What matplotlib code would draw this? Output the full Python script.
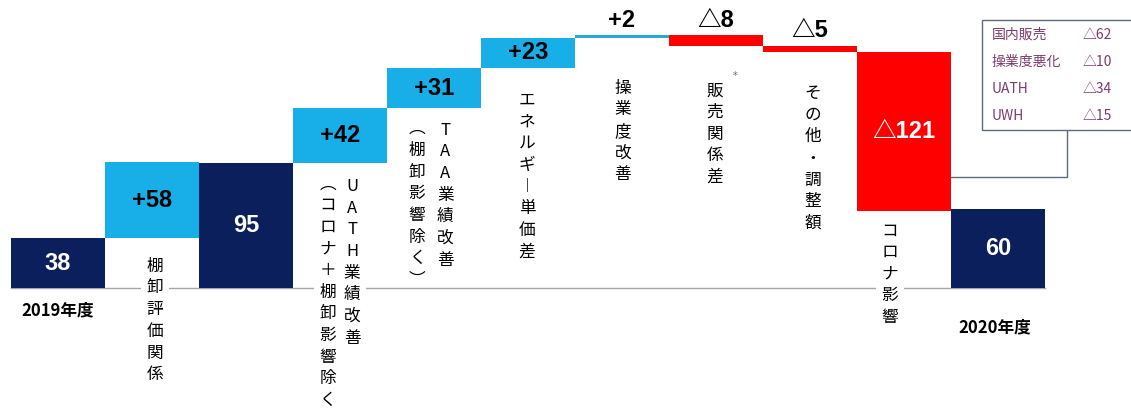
import matplotlib.pyplot as plt
from matplotlib.patches import Rectangle

# ── Data ─────────────────────────────────────────────────────────────────────
steps = ['2019年度', '棚卸評価関係', '小計', 'UATH業績改善', 'TAA業績改善',
         'エネルギー単価差', '操業度改善', '販売関係差', 'その他・調整額',
         'コロナ影響', '2020年度']
values = [38, 58, 95, 42, 31, 23, 2, -8, -5, -121, 60]
is_total = [True, False, True, False, False, False, False, False, False, False, True]
value_labels = ['38', '+58', '95', '+42', '+31', '+23', '+2', '△8', '△5', '△121', '60']

# vertical captions under the bars: (text, bar index offset, top value)
captions = [
    ('棚卸評価関係', 1.03, 23),
    ('UATH業績改善', 3.13, 84),
    ('︵コロナ＋棚卸影響除く︶', 2.87, 86),
    ('TAA業績改善', 4.12, 127),
    ('︵棚卸影響除く︶', 3.82, 128),
    ('エネルギ︱単価差', 4.99, 150),
    ('操業度改善', 6.01, 159),
    ('販売関係差', 6.99, 157),
    ('その他・調整額', 8.03, 155),
    ('コロナ影響', 8.85, 50),
]
# captions that run through the baseline (the line is broken behind them)
crossing = {'棚卸評価関係', 'UATH業績改善', '︵コロナ＋棚卸影響除く︶', 'コロナ影響'}

corona_items = ['国内販売', '操業度悪化', 'UATH', 'UWH']
corona_values = ['△62', '△10', '△34', '△15']

NAVY = '#0b1f5c'
BLUE = '#18aee8'
RED = '#ff0000'
JP = ['Noto Sans CJK JP', 'DejaVu Sans']
NUM = ['Liberation Sans', 'Noto Sans CJK JP', 'DejaVu Sans']

fig = plt.figure(figsize=(11.31, 4.09), dpi=100)
ax = fig.add_axes([0, 0, 1, 1])
ax.set_xlim(-0.617, 11.415)
ax.set_ylim(-92.4, 219.8)
ax.axis('off')

# ── Waterfall bars ───────────────────────────────────────────────────────────
level = 0
for i, (v, tot, lab) in enumerate(zip(values, is_total, value_labels)):
    if tot:
        bottom, height = 0, v
        color = NAVY
        level = v
    else:
        bottom = level if v > 0 else level + v
        height = abs(v)
        color = RED if v < 0 else BLUE
        if i == 6:
            color = '#2aa7d6'
        level += v
    ax.bar(i, height, bottom=bottom, width=1.0, color=color, zorder=3)

    if height > 10:
        tc = 'white' if (tot or v < 0) else 'black'
        ax.text(i, bottom + height / 2, lab, ha='center', va='center',
                fontsize=17, fontweight='bold', color=tc, family=NUM, zorder=4)
    else:
        ax.text(i, bottom + height + 2.5, lab, ha='center', va='bottom',
                fontsize=17, fontweight='bold', color='black', family=NUM, zorder=4)

# baseline
ax.plot([-0.5, 10.5], [0, 0], color='#a6a6a6', lw=1, zorder=1)

# ── Captions ─────────────────────────────────────────────────────────────────
for text, xi, top in captions:
    bbox = dict(facecolor='white', edgecolor='none', pad=4) if text in crossing else None
    ax.text(xi, top, '\n'.join(text), ha='center', va='top', ma='center',
            fontsize=12, family=JP, linespacing=1.36, zorder=2, bbox=bbox)

ax.text(0.0, -17, steps[0], ha='center', va='center', fontsize=12,
        fontweight='bold', family=JP)
ax.text(9.97, -30, steps[-1], ha='center', va='center', fontsize=12,
        fontweight='bold', family=JP)
ax.text(7.2, 162, '*', ha='center', va='center', fontsize=7, color='#666666')

# ── Breakdown box for コロナ影響 ──────────────────────────────────────────────
box_x0, box_y0, box_y1 = 9.83, 120.6, 204.6
ax.add_patch(Rectangle((box_x0, box_y0), 2.0, box_y1 - box_y0, facecolor='white',
                       edgecolor='#5b6b7b', lw=1, zorder=2))
ax.plot([9.5, 10.73, 10.73], [85, 85, box_y0], color='#5b6b7b', lw=1, zorder=1)
row_y = [box_y1 - 11.5, box_y1 - 32, box_y1 - 52.5, box_y1 - 73]
for name, val, y in zip(corona_items, corona_values, row_y):
    ax.text(box_x0 + 0.1, y, name, ha='left', va='center', fontsize=10,
            color='#7b3b6f', family=JP, zorder=3)
    ax.text(box_x0 + 1.07, y, val, ha='left', va='center', fontsize=10,
            color='#7b3b6f', family=JP, zorder=3)

fig.savefig('out.png', dpi=100)
